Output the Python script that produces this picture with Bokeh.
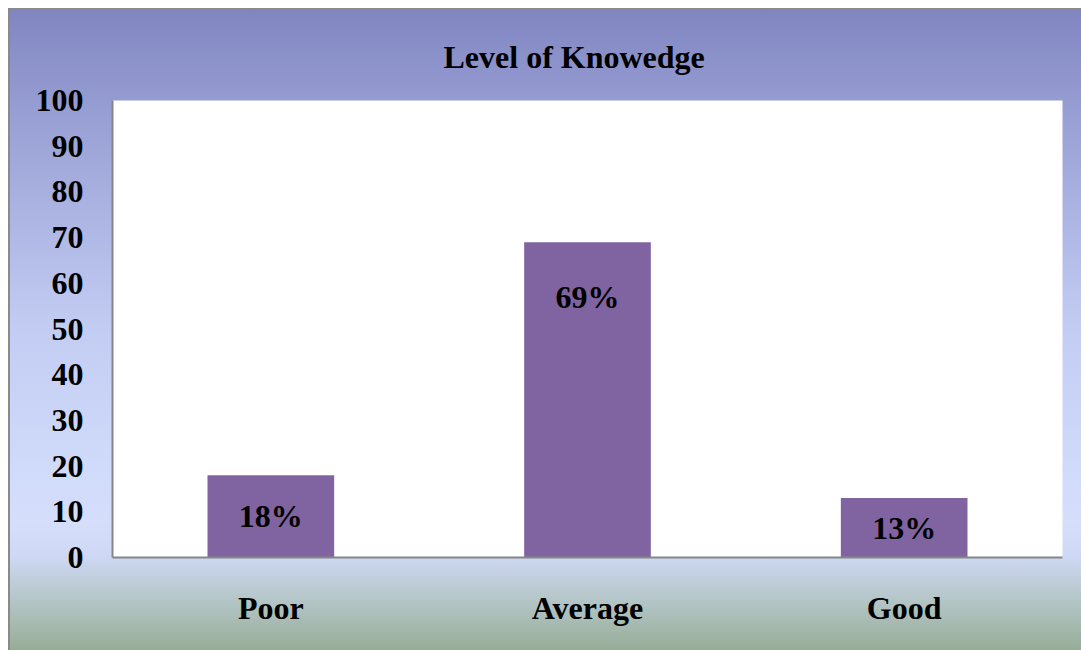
from bokeh.plotting import figure
from bokeh.models import ColumnDataSource, Range1d, FactorRange, LabelSet
from bokeh.embed import file_html
from bokeh.resources import INLINE

categories = ["Poor", "Average", "Good"]
values = [18, 69, 13]
labels = ["18%", "69%", "13%"]
y_ticks = [0, 10, 20, 30, 40, 50, 60, 70, 80, 90, 100]
title_text = "Level of Knowedge"

W, H = 1073, 642
FONT = "Liberation Serif"

p = figure(width=W, height=H, x_range=FactorRange(*categories, range_padding=0),
           y_range=Range1d(0, 100), output_backend="svg", toolbar_location=None,
           min_border_left=104, min_border_right=19, min_border_bottom=93, min_border_top=92)

p.styles = {
    "margin": "8px 0 0 8px",
    "background": "linear-gradient(to bottom, #8085c0 0%, #979ed3 16%, #c3cdf3 50%, "
                  "#d5dffc 80%, #cfd9f6 85%, #b9c9cf 91%, #97ad97 100%)",
    "box-shadow": "inset 2px 2px 0 0 #8a8a8a",
}
p.border_fill_color = None
p.background_fill_color = "white"

label_y = [max(v / 2, v - 12) for v in values]
src = ColumnDataSource(dict(x=categories, top=values, label=labels, ly=label_y))
p.vbar(x="x", top="top", width=0.4, source=src, fill_color="#8064a2", line_color=None)
p.add_layout(LabelSet(x="x", y="ly", text="label", source=src, text_align="center",
                      text_baseline="middle", text_font=FONT, text_font_style="bold",
                      text_font_size="32px", text_color="black"))

p.title.text = title_text
p.title.align = "left"
p.title.offset = 331
p.title.text_font = FONT
p.title.text_font_size = "32px"
p.title.text_font_style = "bold"
p.title.text_color = "black"
p.title.standoff = 52

p.xgrid.visible = False
p.ygrid.visible = False
p.outline_line_color = None

p.yaxis.ticker = y_ticks
for ax in (p.xaxis, p.yaxis):
    ax.axis_line_color = "#868686"
    ax.axis_line_width = 2
    ax.major_tick_line_color = None
    ax.minor_tick_line_color = None
    ax.major_label_text_font = FONT
    ax.major_label_text_font_style = "bold"
    ax.major_label_text_font_size = "32px"
    ax.major_label_text_color = "black"
p.yaxis.major_label_standoff = 23
p.xaxis.major_label_standoff = 26

open("out.html", "w").write(file_html(p, INLINE))
